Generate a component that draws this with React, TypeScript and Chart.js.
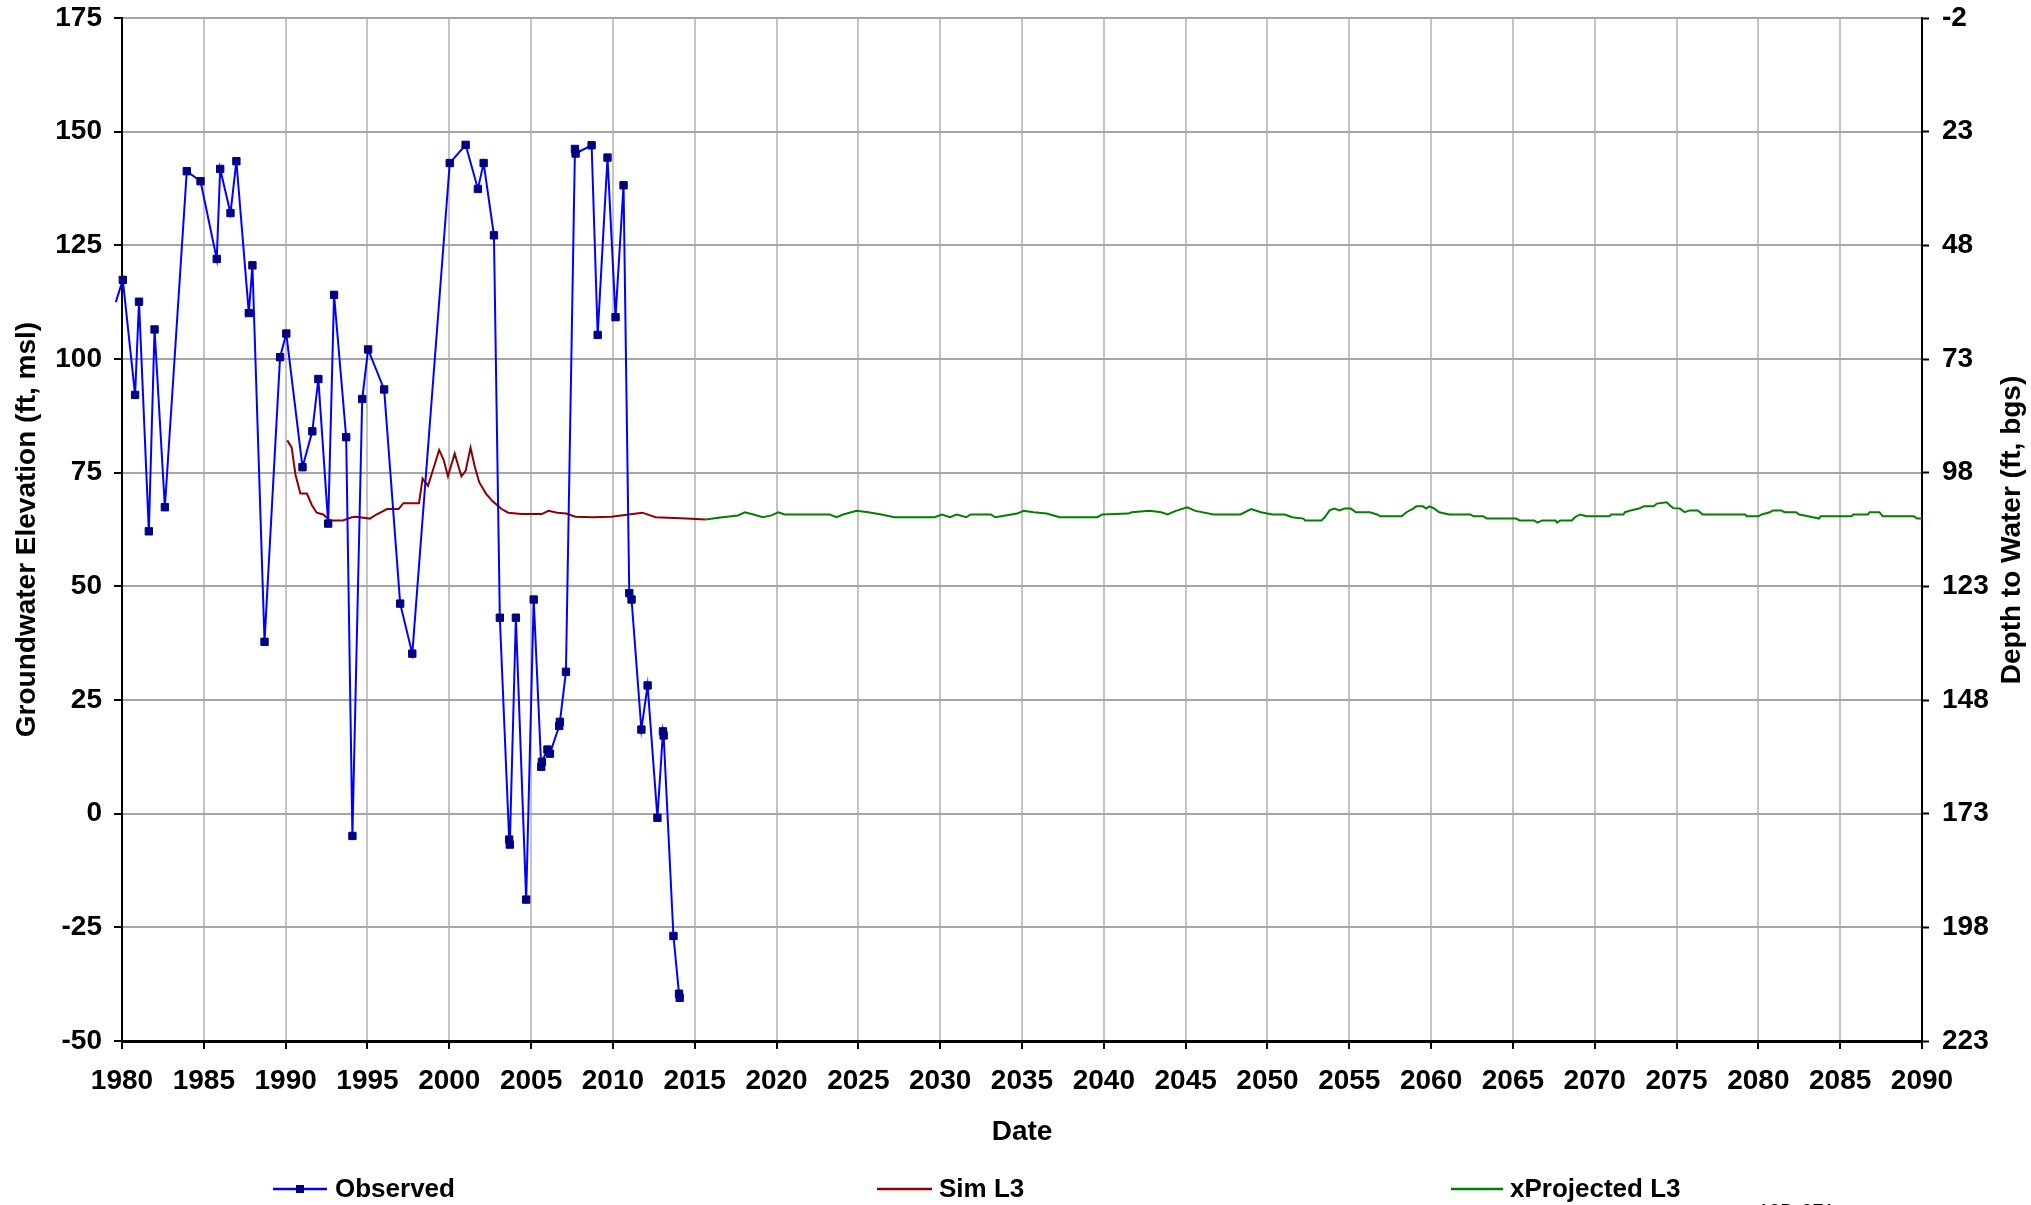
import React, { useEffect, useRef } from 'react';
import { Chart, registerables } from 'chart.js';

Chart.register(...registerables);

// ---------- data ----------
const obsYears = [
  1979.62, 1980.05, 1980.8, 1981.04, 1981.64, 1981.99, 1982.62, 1983.96, 1984.8, 1985.79,
  1986.0, 1986.63, 1986.99, 1987.75, 1987.97, 1988.71, 1989.66, 1990.04, 1991.03, 1991.63,
  1992.0, 1992.6, 1992.96, 1993.7, 1994.08, 1994.68, 1995.04, 1996.02, 1997.0, 1997.74,
  2000.03, 2001.0, 2001.75, 2002.1, 2002.73, 2003.09, 2003.66, 2003.7, 2004.07, 2004.7,
  2005.16, 2005.62, 2005.66, 2006.0, 2006.15, 2006.72, 2006.76, 2007.13, 2007.68, 2007.72,
  2008.7, 2009.07, 2009.67, 2010.16, 2010.65, 2011.0, 2011.14, 2011.74, 2012.12, 2012.72,
  2013.06, 2013.1, 2013.7, 2014.04, 2014.08,
];
const obsValues = [
  112.5, 117.4, 92.1, 112.6, 62.1, 106.5, 67.4, 141.3, 139.1, 122.0,
  141.8, 132.1, 143.5, 110.1, 120.6, 37.8, 100.4, 105.6, 76.2, 84.1,
  95.6, 63.8, 114.1, 82.8, -4.9, 91.2, 102.1, 93.3, 46.2, 35.2,
  143.1, 147.1, 137.4, 143.1, 127.2, 43.1, -5.7, -6.8, 43.1, -18.9,
  47.1, 10.3, 11.4, 14.1, 13.2, 19.3, 20.2, 31.2, 146.2, 145.2,
  147.0, 105.3, 144.3, 109.2, 138.2, 48.5, 47.1, 18.5, 28.2, -0.9,
  18.1, 17.2, -26.9, -39.6, -40.5,
];

const simYears = [
  1990.1, 1990.37, 1990.6, 1990.9, 1991.3, 1991.6, 1991.9, 1992.3, 1992.7, 1993.5,
  1994.05, 1994.3, 1995.15, 1995.55, 1996.2, 1996.9, 1997.2, 1998.15, 1998.37, 1998.7,
  1999.1, 1999.38, 1999.65, 1999.92, 2000.33, 2000.74, 2001.0, 2001.3, 2001.56, 2001.83,
  2002.24, 2002.65, 2003.2, 2003.6, 2004.4, 2005.65, 2006.06, 2006.6, 2007.15, 2007.7,
  2008.8, 2009.9, 2011.8, 2012.6, 2014.5, 2015.65,
];
const simValues = [
  82.1, 80.5, 74.6, 70.4, 70.4, 67.9, 66.2, 65.8, 64.5, 64.5,
  65.2, 65.3, 64.9, 65.8, 67.0, 67.0, 68.3, 68.3, 73.7, 72.1,
  76.7, 80.0, 77.9, 74.2, 79.2, 74.2, 75.4, 80.5, 76.3, 72.9,
  70.4, 68.7, 67.0, 66.2, 65.9, 65.9, 66.6, 66.2, 66.0, 65.3,
  65.2, 65.3, 66.2, 65.2, 64.9, 64.7,
];

const projYears = [
  2015.65, 2016.7, 2017.65, 2018.06, 2018.6, 2019.15, 2019.7, 2020.1, 2020.5, 2023.25,
  2023.66, 2024.07, 2024.9, 2025.6, 2026.4, 2027.2, 2029.67, 2030.1, 2030.6, 2031.0,
  2031.6, 2031.86, 2033.1, 2033.36, 2034.0, 2034.7, 2035.1, 2035.7, 2036.5, 2037.3,
  2039.6, 2039.9, 2041.5, 2041.7, 2042.8, 2043.5, 2043.9, 2044.4, 2045.1, 2045.6,
  2046.7, 2048.35, 2049.0, 2049.6, 2050.3, 2051.06, 2051.5, 2052.2, 2052.3, 2053.3,
  2053.5, 2053.8, 2054.1, 2054.4, 2054.7, 2055.1, 2055.4, 2056.25, 2056.7, 2056.9,
  2058.2, 2058.5, 2058.9, 2059.1, 2059.5, 2059.7, 2059.9, 2060.2, 2060.5, 2061.1,
  2062.4, 2062.6, 2063.2, 2063.4, 2065.2, 2065.4, 2066.3, 2066.5, 2066.8, 2067.6,
  2067.7, 2067.9, 2068.6, 2068.8, 2069.1, 2069.5, 2070.9, 2071.0, 2071.75, 2071.85,
  2072.2, 2072.7, 2073.0, 2073.6, 2073.8, 2074.4, 2074.6, 2074.8, 2075.2, 2075.5,
  2075.8, 2076.3, 2076.6, 2079.2, 2079.3, 2080.0, 2080.2, 2080.7, 2080.9, 2081.4,
  2081.6, 2082.3, 2082.5, 2083.05, 2083.7, 2083.8, 2085.7, 2085.8, 2086.7, 2086.8,
  2087.4, 2087.6, 2089.5, 2089.7, 2090.0,
];
const projValues = [
  64.7, 65.2, 65.6, 66.3, 65.8, 65.2, 65.6, 66.3, 65.8, 65.8,
  65.2, 65.8, 66.6, 66.3, 65.8, 65.2, 65.2, 65.8, 65.2, 65.8,
  65.2, 65.8, 65.8, 65.2, 65.6, 66.0, 66.6, 66.3, 66.0, 65.2,
  65.2, 65.8, 66.0, 66.3, 66.6, 66.3, 65.8, 66.6, 67.4, 66.6,
  65.8, 65.8, 67.0, 66.3, 65.8, 65.8, 65.2, 64.9, 64.5, 64.5,
  65.2, 66.7, 67.1, 66.7, 67.1, 67.1, 66.3, 66.3, 65.8, 65.4,
  65.4, 66.3, 67.1, 67.6, 67.6, 67.1, 67.6, 67.1, 66.3, 65.8,
  65.8, 65.4, 65.4, 64.9, 64.9, 64.5, 64.5, 64.0, 64.5, 64.5,
  64.0, 64.5, 64.5, 65.2, 65.8, 65.4, 65.4, 65.8, 65.8, 66.3,
  66.7, 67.1, 67.6, 67.6, 68.2, 68.5, 67.8, 67.2, 67.1, 66.3,
  66.7, 66.7, 65.8, 65.8, 65.4, 65.4, 65.8, 66.3, 66.7, 66.7,
  66.3, 66.3, 65.8, 65.4, 64.9, 65.4, 65.4, 65.8, 65.8, 66.3,
  66.3, 65.4, 65.4, 64.9, 64.9,
];

const leftTicks = [-50, -25, 0, 25, 50, 75, 100, 125, 150, 175];
const rightTicks = [-2, 23, 48, 73, 98, 123, 148, 173, 198, 223];
const xMin = 1980;
const xMax = 2090;
const xStep = 5;

const seriesNames = ['Observed', 'Sim L3', 'xProjected L3'];
const leftTitle = 'Groundwater Elevation (ft, msl)';
const rightTitle = 'Depth to Water (ft, bgs)';
const xTitle = 'Date';
const cornerNote = '10D-071';

const FONT = "'Liberation Sans', Arial, Helvetica, sans-serif";

const toXY = (xs: number[], ys: number[]) => xs.map((x, i) => ({ x, y: ys[i] }));

const zeroPad = (s: any) => {
  s.paddingTop = 0;
  s.paddingBottom = 0;
  s.paddingLeft = 0;
  s.paddingRight = 0;
};

export default function App() {
  const ref = useRef<HTMLCanvasElement | null>(null);

  useEffect(() => {
    if (!ref.current) return;

    const decor = {
      id: 'decor',
      afterDraw(chart: any) {
        const ctx = chart.ctx as CanvasRenderingContext2D;
        ctx.save();
        // right axis title, rotated to read bottom-to-top
        ctx.fillStyle = '#000';
        ctx.font = `bold 28px ${FONT}`;
        ctx.textAlign = 'center';
        ctx.textBaseline = 'middle';
        ctx.translate(2012, 530);
        ctx.rotate(-Math.PI / 2);
        ctx.fillText(rightTitle, 0, 0);
        ctx.restore();

        // legend
        const ly = 1189;
        const items = [
          { x0: 273, x1: 327, tx: 335 },
          { x0: 877, x1: 932, tx: 939 },
          { x0: 1451, x1: 1503, tx: 1510 },
        ];
        chart.data.datasets.forEach((ds: any, i: number) => {
          const it = items[i];
          ctx.save();
          ctx.strokeStyle = ds.borderColor;
          ctx.lineWidth = 2.5;
          ctx.beginPath();
          ctx.moveTo(it.x0, ly);
          ctx.lineTo(it.x1, ly);
          ctx.stroke();
          if (i === 0) {
            ctx.fillStyle = ds.pointBackgroundColor;
            ctx.fillRect((it.x0 + it.x1) / 2 - 4, ly - 4, 8, 8);
          }
          ctx.fillStyle = '#000';
          ctx.font = `bold 26px ${FONT}`;
          ctx.textAlign = 'left';
          ctx.textBaseline = 'middle';
          ctx.fillText(ds.label, it.tx, ly + 1);
          ctx.restore();
        });

        // clipped corner note
        ctx.save();
        ctx.fillStyle = '#000';
        ctx.font = `20px ${FONT}`;
        ctx.textBaseline = 'top';
        ctx.textAlign = 'left';
        ctx.fillText(cornerNote, 1758, 1202);
        ctx.restore();
      },
    };

    const chart = new Chart(ref.current, {
      type: 'line',
      data: {
        datasets: [
          {
            label: seriesNames[0],
            data: toXY(obsYears, obsValues),
            borderColor: '#0000ff',
            borderWidth: 2,
            pointStyle: 'rect',
            pointRadius: (c: any) => (c.dataIndex === 0 ? 0 : 5.2),
            pointBackgroundColor: '#000080',
            pointBorderColor: '#000080',
            pointBorderWidth: 1,
            tension: 0,
            clip: 8,
            yAxisID: 'y',
          },
          {
            label: seriesNames[1],
            data: toXY(simYears, simValues),
            borderColor: '#8b0000',
            borderWidth: 2,
            pointRadius: 0,
            tension: 0,
            yAxisID: 'y',
          },
          {
            label: seriesNames[2],
            data: toXY(projYears, projValues),
            borderColor: '#008000',
            borderWidth: 2,
            pointRadius: 0,
            tension: 0,
            yAxisID: 'y',
          },
        ],
      },
      options: {
        animation: false,
        responsive: false,
        devicePixelRatio: 1,
        layout: { padding: { top: 18, bottom: 56, left: 0, right: 0 } },
        plugins: {
          legend: { display: false },
          tooltip: { enabled: false },
        },
        scales: {
          x: {
            type: 'linear',
            min: xMin,
            max: xMax,
            afterFit: (s: any) => {
              s.height = 108;
              zeroPad(s);
            },
            ticks: {
              stepSize: xStep,
              autoSkip: false,
              maxRotation: 0,
              padding: 15,
              color: '#000',
              font: { family: FONT, size: 28, weight: 'bold' },
              callback: (v: any) => String(v),
            },
            grid: {
              color: '#c4c4c4',
              lineWidth: 2,
              tickColor: '#000',
              tickLength: 8,
              tickWidth: 2,
            },
            border: { display: true, color: '#000', width: 3 },
            title: {
              display: true,
              text: xTitle,
              color: '#000',
              padding: 0,
              font: { family: FONT, size: 28, weight: 'bold' },
            },
          },
          y: {
            type: 'linear',
            position: 'left',
            min: -50,
            max: 175,
            afterFit: (s: any) => {
              s.width = 122;
              zeroPad(s);
            },
            afterBuildTicks: (s: any) => {
              s.ticks = leftTicks.map((v) => ({ value: v }));
            },
            ticks: {
              padding: 12,
              color: '#000',
              font: { family: FONT, size: 28, weight: 'bold' },
              callback: (v: any) => String(v),
            },
            grid: {
              color: '#a6a6a6',
              lineWidth: 2,
              tickColor: '#000',
              tickLength: 8,
              tickWidth: 2,
            },
            border: { display: true, color: '#000', width: 2 },
            title: {
              display: true,
              text: leftTitle,
              color: '#000',
              padding: { top: 10, bottom: 0 },
              font: { family: FONT, size: 28, weight: 'bold' },
            },
          },
          y2: {
            type: 'linear',
            position: 'right',
            reverse: true,
            min: rightTicks[0],
            max: rightTicks[rightTicks.length - 1],
            afterFit: (s: any) => {
              s.width = 109;
              zeroPad(s);
            },
            afterBuildTicks: (s: any) => {
              s.ticks = rightTicks.map((v) => ({ value: v }));
            },
            ticks: {
              padding: 13,
              color: '#000',
              font: { family: FONT, size: 28, weight: 'bold' },
              callback: (v: any) => String(v),
            },
            grid: {
              drawOnChartArea: false,
              color: '#000',
              tickColor: '#000',
              tickLength: 7,
              tickWidth: 2,
            },
            border: { display: true, color: '#000', width: 2 },
          },
        },
      },
      plugins: [decor],
    } as any);

    return () => chart.destroy();
  }, []);

  return (
    <div
      style={{
        position: 'fixed',
        left: 0,
        top: 0,
        width: 2031,
        height: 1205,
        overflow: 'hidden',
        background: '#fff',
      }}
    >
      <canvas ref={ref} width={2031} height={1205} style={{ width: 2031, height: 1205, display: 'block' }} />
    </div>
  );
}
